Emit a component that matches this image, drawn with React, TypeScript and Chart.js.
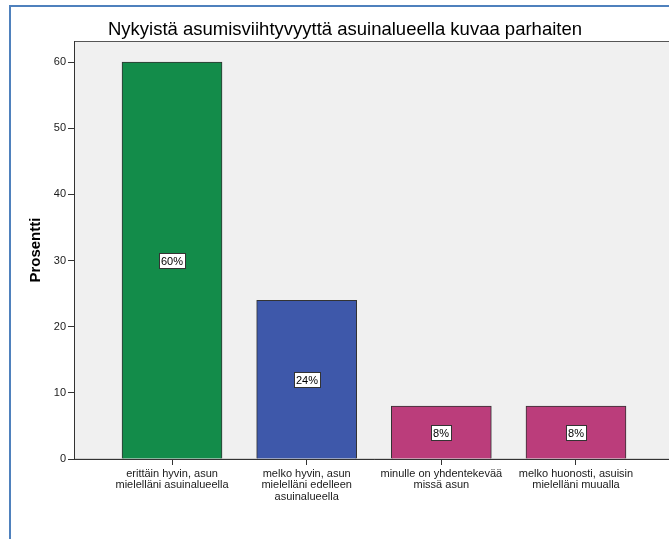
import React, { useEffect, useRef } from "react";
import { Chart, registerables } from "chart.js";

Chart.register(...registerables);

const titleText = "Nykyistä asumisviihtyvyyttä asuinalueella kuvaa parhaiten";
const yAxisTitle = "Prosentti";
const categories: string[][] = [
  ["erittäin hyvin, asun", "mielelläni asuinalueella"],
  ["melko hyvin, asun", "mielelläni edelleen", "asuinalueella"],
  ["minulle on yhdentekevää", "missä asun"],
  ["melko huonosti, asuisin", "mielelläni muualla"],
];
const percents: number[] = [60, 24, 8, 8];
const barColors: string[] = ["#138C4A", "#3E58AA", "#BB3D7B", "#BB3D7B"];
const yTickValues: number[] = [0, 10, 20, 30, 40, 50, 60];

const FONT = "'Liberation Sans', Arial, sans-serif";

const plotBg = {
  id: "plotBg",
  beforeDraw(chart: any) {
    const { ctx, chartArea: a } = chart;
    ctx.save();
    ctx.fillStyle = "#F0F0F0";
    ctx.fillRect(a.left, a.top, a.right - a.left, a.bottom - a.top);
    ctx.strokeStyle = "#555555";
    ctx.lineWidth = 1;
    ctx.strokeRect(Math.round(a.left) + 0.5, Math.round(a.top) + 0.5, a.right - a.left, a.bottom - a.top);
    ctx.restore();
  },
};

const valueLabels = {
  id: "valueLabels",
  afterDatasetsDraw(chart: any) {
    const { ctx } = chart;
    const meta = chart.getDatasetMeta(0);
    const yScale = chart.scales.y;
    ctx.save();
    ctx.font = `11px ${FONT}`;
    ctx.textAlign = "center";
    ctx.textBaseline = "middle";
    meta.data.forEach((bar: any, i: number) => {
      const v = percents[i];
      const text = `${v}%`;
      const cx = Math.round(bar.x);
      const cy = Math.round(yScale.getPixelForValue(v / 2));
      const w = Math.round(ctx.measureText(text).width) + 5;
      const h = 16;
      const x0 = Math.round(cx - w / 2);
      const y0 = Math.round(cy - h / 2);
      ctx.fillStyle = "#FFFFFF";
      ctx.fillRect(x0, y0, w, h);
      ctx.strokeStyle = "#333333";
      ctx.lineWidth = 1;
      ctx.strokeRect(x0 + 0.5, y0 + 0.5, w - 1, h - 1);
      ctx.fillStyle = "#000000";
      ctx.fillText(text, cx, cy + 1);
    });
    ctx.restore();
  },
};

export default function App() {
  const ref = useRef<HTMLCanvasElement>(null);

  useEffect(() => {
    if (!ref.current) return;
    const chart = new Chart(ref.current, {
      type: "bar",
      data: {
        datasets: [
          {
            data: percents.map((p, i) => ({ x: i, y: p })),
            backgroundColor: barColors,
            borderColor: "#333333",
            borderWidth: 1,
            barThickness: 100,
          } as any,
        ],
      },
      options: {
        responsive: false,
        animation: false,
        devicePixelRatio: 1,
        layout: { padding: { left: 16, right: 16, top: 0, bottom: 0 } },
        plugins: {
          legend: { display: false },
          tooltip: { enabled: false },
          title: {
            display: true,
            text: titleText,
            color: "#000000",
            font: { family: FONT, size: 18.5, weight: "normal" as any, lineHeight: 1.2 },
            padding: { top: 19, bottom: 0 },
          },
        },
        scales: {
          x: {
            type: "linear",
            offset: false,
            min: -0.728,
            max: 3.728,
            afterBuildTicks: (scale: any) => {
              scale.ticks = categories.map((_, i) => ({ value: i }));
            },
            afterFit: (scale: any) => {
              scale.height = 80;
            },
            ticks: {
              autoSkip: false,
              maxRotation: 0,
              minRotation: 0,
              padding: 3,
              color: "#1A1A1A",
              font: { family: FONT, size: 11, lineHeight: 1.05 },
              callback: (value: any) => categories[Math.round(Number(value))] ?? "",
            },
            grid: {
              display: true,
              drawOnChartArea: false,
              drawTicks: true,
              tickLength: 6,
              color: "#333333",
              offset: false,
            },
            border: { display: true, color: "#333333", width: 1 },
          },
          y: {
            type: "linear",
            min: 0,
            max: 63.17,
            afterBuildTicks: (scale: any) => {
              scale.ticks = yTickValues.map((v) => ({ value: v }));
            },
            afterFit: (scale: any) => {
              scale.width = 58;
            },
            ticks: {
              padding: 2,
              color: "#1A1A1A",
              font: { family: FONT, size: 11 },
            },
            grid: {
              display: true,
              drawOnChartArea: false,
              drawTicks: true,
              tickLength: 6,
              color: "#333333",
            },
            border: { display: true, color: "#333333", width: 1 },
            title: {
              display: true,
              text: yAxisTitle,
              color: "#000000",
              font: { family: FONT, size: 15, weight: "bold" as any, lineHeight: 1.2 },
              padding: { top: 11, bottom: 0 },
            },
          },
        },
      },
      plugins: [plotBg, valueLabels],
    });
    return () => chart.destroy();
  }, []);

  return (
    <div
      style={{
        position: "absolute",
        left: 0,
        top: 0,
        width: 669,
        height: 539,
        overflow: "hidden",
        background: "#FFFFFF",
      }}
    >
      <div
        style={{
          position: "absolute",
          left: 9,
          top: 5,
          width: 720,
          height: 600,
          borderLeft: "2px solid #4F81BD",
          borderTop: "2px solid #4F81BD",
        }}
      />
      <canvas
        ref={ref}
        width={690}
        height={539}
        style={{ position: "absolute", left: 0, top: 0, width: 690, height: 539 }}
      />
    </div>
  );
}
